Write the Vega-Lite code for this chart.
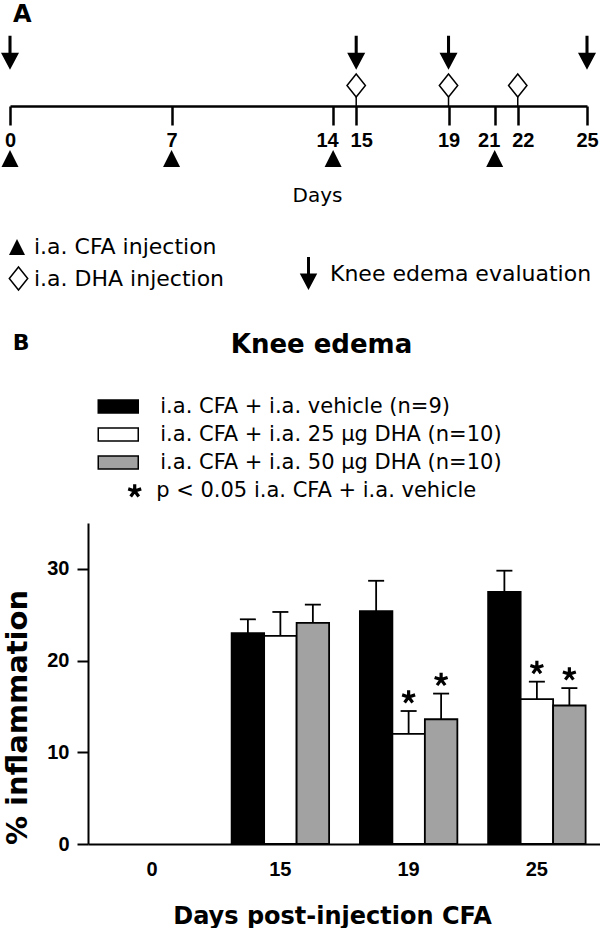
{
  "$schema": "https://vega.github.io/schema/vega-lite/v6.json",
  "padding": {"left": 0, "top": 3, "right": 0, "bottom": 0},
  "background": "white",
  "spacing": 39,
  "config": {
    "view": {"stroke": null},
    "axis": {"grid": false},
    "legend": {"padding": 0, "titlePadding": 0},
    "font": "DejaVu Sans"
  },
  "resolve": {
    "scale": {"shape": "independent", "fill": "independent"},
    "legend": {"shape": "independent", "fill": "independent"}
  },
  "datasets": {
    "timeline": [
      {"day": 0, "event": "i.a. CFA injection"},
      {"day": 7, "event": "i.a. CFA injection"},
      {"day": 14, "event": "i.a. CFA injection"},
      {"day": 21, "event": "i.a. CFA injection"},
      {"day": 15, "event": "i.a. DHA injection"},
      {"day": 19, "event": "i.a. DHA injection"},
      {"day": 22, "event": "i.a. DHA injection"},
      {"day": 0, "event": "Knee edema evaluation"},
      {"day": 15, "event": "Knee edema evaluation"},
      {"day": 19, "event": "Knee edema evaluation"},
      {"day": 25, "event": "Knee edema evaluation"}
    ],
    "edema": [
      {"day": 15, "group": "i.a. CFA + i.a. vehicle (n=9)", "mean": 23.0, "upper": 24.5, "sig": false},
      {"day": 15, "group": "i.a. CFA + i.a. 25 μg DHA (n=10)", "mean": 22.7, "upper": 25.3, "sig": false},
      {"day": 15, "group": "i.a. CFA + i.a. 50 μg DHA (n=10)", "mean": 24.1, "upper": 26.1, "sig": false},
      {"day": 19, "group": "i.a. CFA + i.a. vehicle (n=9)", "mean": 25.4, "upper": 28.7, "sig": false},
      {"day": 19, "group": "i.a. CFA + i.a. 25 μg DHA (n=10)", "mean": 12.0, "upper": 14.5, "sig": true},
      {"day": 19, "group": "i.a. CFA + i.a. 50 μg DHA (n=10)", "mean": 13.6, "upper": 16.4, "sig": true},
      {"day": 25, "group": "i.a. CFA + i.a. vehicle (n=9)", "mean": 27.5, "upper": 29.8, "sig": false},
      {"day": 25, "group": "i.a. CFA + i.a. 25 μg DHA (n=10)", "mean": 15.8, "upper": 17.7, "sig": true},
      {"day": 25, "group": "i.a. CFA + i.a. 50 μg DHA (n=10)", "mean": 15.1, "upper": 17.0, "sig": true}
    ]
  },
  "vconcat": [
    {
      "title": {"text": "A", "anchor": "start", "frame": "bounds", "font": "DejaVu Sans", "fontWeight": "bold", "fontSize": 24, "color": "black", "dx": 12, "offset": 3},
      "width": 499,
      "height": 76,
      "data": {"name": "timeline"},
      "encoding": {
        "x": {
          "field": "day", "type": "quantitative",
          "scale": {"domain": [0, 25], "range": [-78, 499], "nice": false, "zero": false},
          "axis": {
            "values": [0, 7, 14, 15, 19, 21, 22, 25], "format": "d", "grid": false,
            "domainColor": "black", "domainWidth": 2.5, "tickColor": "black", "tickWidth": 2.5, "tickSize": 19,
            "labelFont": "Liberation Sans", "labelFontWeight": "bold", "labelFontSize": 20, "labelColor": "black",
            "labelPadding": 5, "labelFlush": false, "labelOverlap": false,
            "labelOffset": {"condition": [
              {"test": "datum.value === 14 || datum.value === 21", "value": -6},
              {"test": "datum.value === 15 || datum.value === 22", "value": 5}
            ], "value": 0},
            "title": "Days", "titleFont": "DejaVu Sans", "titleFontWeight": "normal", "titleFontSize": 20, "titleColor": "black",
            "titleX": 229, "titleY": 95, "titleBaseline": "alphabetic"
          }
        }
      },
      "layer": [
        {
          "transform": [{"filter": "datum.event === 'Knee edema evaluation'"}],
          "mark": {"type": "point", "filled": true, "color": "black", "opacity": 1, "size": 1156},
          "encoding": {
            "y": {"datum": 2.8, "type": "quantitative", "scale": {"domain": [0, 4], "nice": false, "zero": false}, "axis": null},
            "shape": {
              "field": "event", "type": "nominal",
              "scale": {"range": ["M-0.09,-1L0.09,-1L0.09,0L0.53,0L0,1L-0.53,0L-0.09,0Z"]},
              "legend": {"orient": "none", "legendX": 204, "legendY": 227, "title": null, "symbolSize": 1089,
                "symbolFillColor": "black", "symbolStrokeColor": "black", "symbolStrokeWidth": 0, "symbolOpacity": 1,
                "labelFont": "DejaVu Sans", "labelFontSize": 22, "labelColor": "black", "labelOffset": 5, "labelLimit": 500}
            }
          }
        },
        {
          "transform": [{"filter": "datum.event === 'i.a. DHA injection'"}],
          "mark": {"type": "rule", "color": "black", "strokeWidth": 1.5},
          "encoding": {
            "y": {"datum": 0, "type": "quantitative", "scale": {"domain": [0, 4], "nice": false, "zero": false}, "axis": null},
            "y2": {"datum": 0.47}
          }
        },
        {
          "transform": [{"filter": "datum.event === 'i.a. DHA injection'"}],
          "mark": {"type": "point", "filled": false, "color": "black", "strokeWidth": 1.5, "opacity": 1, "size": 529},
          "encoding": {
            "y": {"datum": 1.08, "type": "quantitative", "scale": {"domain": [0, 4], "nice": false, "zero": false}, "axis": null},
            "shape": {
              "field": "event", "type": "nominal",
              "scale": {"range": ["M0,-1L0.8,0L0,1L-0.8,0Z"]},
              "legend": {"orient": "none", "legendX": -82, "legendY": 236, "title": null, "symbolSize": 529,
                "symbolStrokeColor": "black", "symbolStrokeWidth": 1.5, "symbolOpacity": 1,
                "labelFont": "DejaVu Sans", "labelFontSize": 22, "labelColor": "black", "labelOffset": 3, "labelLimit": 500}
            }
          }
        },
        {
          "transform": [{"filter": "datum.event === 'i.a. CFA injection'"}],
          "mark": {"type": "point", "filled": true, "color": "black", "opacity": 1, "size": 289},
          "encoding": {
            "y": {"datum": -2.76, "type": "quantitative", "scale": {"domain": [0, 4], "nice": false, "zero": false}, "axis": null},
            "shape": {
              "field": "event", "type": "nominal",
              "scale": {"range": ["M0,-1L1,1L-1,1Z"]},
              "legend": {"orient": "none", "legendX": -82, "legendY": 206, "title": null, "symbolSize": 256,
                "symbolFillColor": "black", "symbolStrokeColor": "black", "symbolStrokeWidth": 0, "symbolOpacity": 1,
                "labelFont": "DejaVu Sans", "labelFontSize": 22, "labelColor": "black", "labelOffset": 6, "labelLimit": 500}
            }
          }
        }
      ],
      "resolve": {"scale": {"shape": "independent"}, "legend": {"shape": "independent"}}
    },
    {
      "title": {"text": "B", "anchor": "start", "frame": "bounds", "font": "DejaVu Sans", "fontWeight": "bold", "fontSize": 22, "color": "black", "dx": 9, "offset": -23},
      "resolve": {
        "scale": {"shape": "independent", "fill": "independent"},
        "legend": {"shape": "independent", "fill": "independent"}
      },
      "vconcat": [
        {
          "title": {"text": "Knee edema", "anchor": "middle", "frame": "group", "font": "DejaVu Sans", "fontWeight": "bold", "fontSize": 26, "color": "black", "dx": -23, "offset": 37.5},
          "width": 513,
          "height": 321,
          "data": {"name": "edema"},
          "encoding": {
            "x": {
              "field": "day", "type": "ordinal",
              "scale": {"type": "band", "domain": [0, 15, 19, 25], "paddingInner": 0.24, "paddingOuter": 0.12},
              "axis": {
                "labelAngle": 0, "labelFont": "Liberation Sans", "labelFontWeight": "bold", "labelFontSize": 20, "labelColor": "black",
                "labelPadding": 15, "ticks": false, "tickSize": 0, "domainColor": "black", "domainWidth": 2,
                "title": "Days post-injection CFA", "titleFont": "DejaVu Sans", "titleFontWeight": "bold", "titleFontSize": 24,
                "titleColor": "black", "titleX": 244, "titleY": 79, "titleBaseline": "alphabetic"
              }
            },
            "xOffset": {
              "field": "group", "type": "nominal",
              "scale": {"domain": ["i.a. CFA + i.a. vehicle (n=9)", "i.a. CFA + i.a. 25 μg DHA (n=10)", "i.a. CFA + i.a. 50 μg DHA (n=10)"], "paddingInner": 0, "paddingOuter": 0}
            }
          },
          "layer": [
            {
              "mark": {"type": "bar", "stroke": "black", "strokeWidth": 1.8, "opacity": 1},
              "encoding": {
                "y": {
                  "field": "mean", "type": "quantitative",
                  "scale": {"domain": [0, 35], "nice": false},
                  "axis": {
                    "values": [0, 10, 20, 30], "grid": false,
                    "domainColor": "black", "domainWidth": 2, "tickColor": "black", "tickWidth": 2, "tickSize": 11,
                    "labelFont": "Liberation Sans", "labelFontWeight": "bold", "labelFontSize": 20, "labelColor": "black", "labelPadding": 8,
                    "title": "% inflammation", "titleFont": "DejaVu Sans", "titleFontWeight": "bold", "titleFontSize": 29,
                    "titleColor": "black", "titleY": 194, "titlePadding": 14
                  }
                },
                "fill": {
                  "field": "group", "type": "nominal",
                  "scale": {"domain": ["i.a. CFA + i.a. vehicle (n=9)", "i.a. CFA + i.a. 25 μg DHA (n=10)", "i.a. CFA + i.a. 50 μg DHA (n=10)"], "range": ["black", "white", "#a2a2a2"]},
                  "legend": {"orient": "none", "legendX": 19.25, "legendY": -127.5, "title": null,
                    "symbolType": "M-2,-0.64L2,-0.64L2,0.64L-2,0.64Z", "symbolSize": 400,
                    "symbolStrokeColor": "black", "symbolStrokeWidth": 1.5, "symbolOpacity": 1,
                    "labelFont": "DejaVu Sans", "labelFontSize": 21, "labelColor": "black", "labelOffset": 31, "labelLimit": 500, "rowPadding": 7}
                }
              }
            },
            {
              "mark": {"type": "rule", "color": "black", "strokeWidth": 1.8},
              "encoding": {
                "y": {"field": "mean", "type": "quantitative"},
                "y2": {"field": "upper"}
              }
            },
            {
              "mark": {"type": "tick", "orient": "horizontal", "size": 16, "thickness": 1.8, "color": "black", "opacity": 1},
              "encoding": {
                "y": {"field": "upper", "type": "quantitative"}
              }
            },
            {
              "transform": [{"filter": "datum.sig"}],
              "mark": {"type": "point", "filled": false, "color": "black", "strokeWidth": 3.2, "opacity": 1, "size": 187, "yOffset": -14},
              "encoding": {
                "y": {"field": "upper", "type": "quantitative"},
                "shape": {
                  "datum": "p < 0.05 i.a. CFA + i.a. vehicle", "type": "nominal",
                  "scale": {"range": ["M0,0L0,-1M0,0L0.95,-0.31M0,0L0.59,0.81M0,0L-0.59,0.81M0,0L-0.95,-0.31"]},
                  "legend": {"orient": "none", "legendX": 36.2, "legendY": -42.5, "title": null, "symbolSize": 187,
                    "symbolStrokeColor": "black", "symbolFillColor": "transparent", "symbolStrokeWidth": 3.2, "symbolOpacity": 1,
                    "labelFont": "DejaVu Sans", "labelFontSize": 21, "labelColor": "black", "labelOffset": 11, "labelLimit": 500}
                }
              }
            }
          ]
        }
      ]
    }
  ]
}
